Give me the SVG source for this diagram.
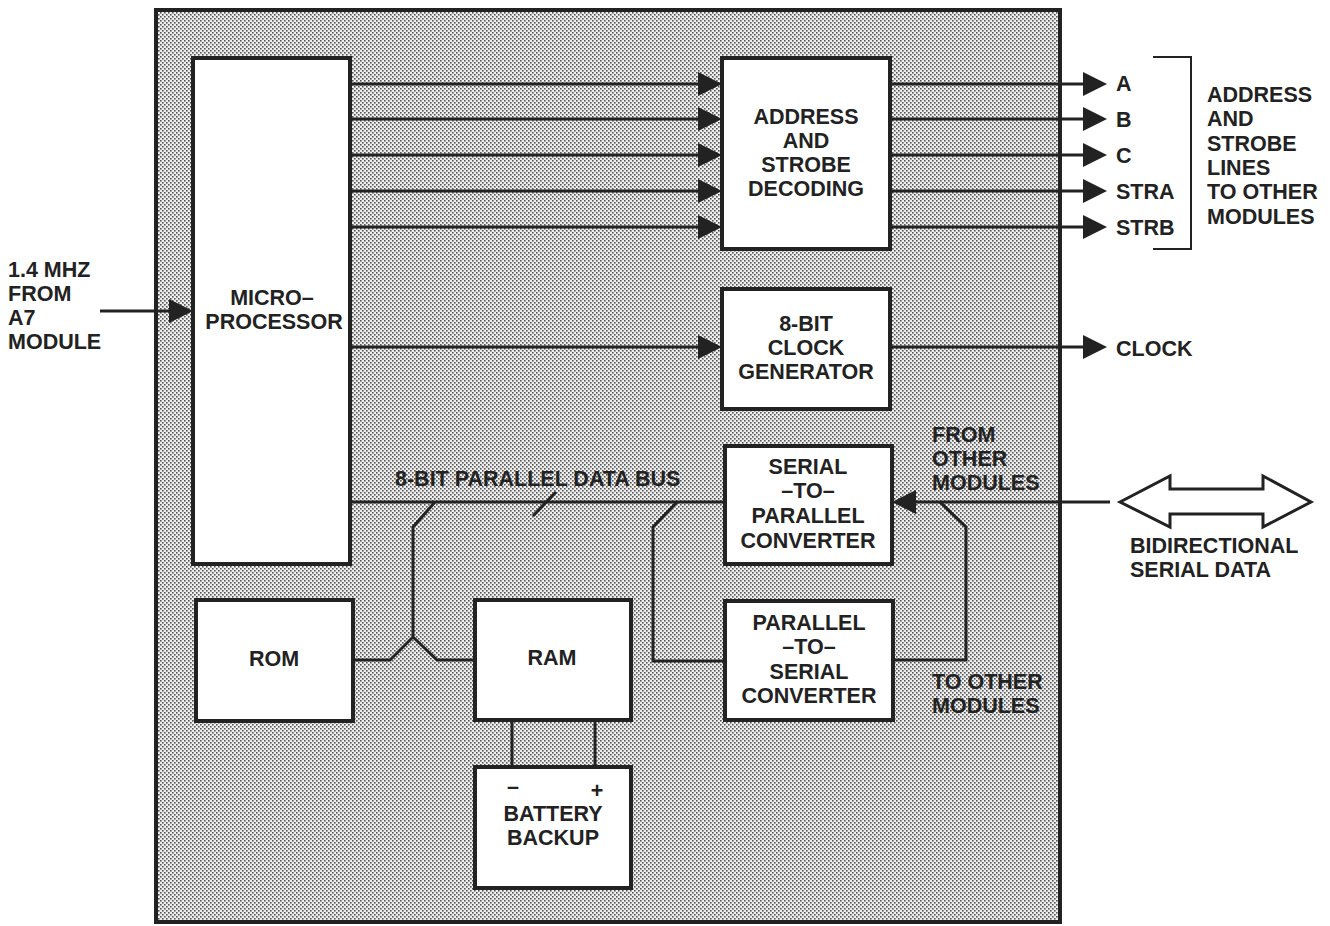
<svg xmlns="http://www.w3.org/2000/svg" width="1330" height="926" viewBox="0 0 1330 926">
<style>
text{font-family:"Liberation Sans",Arial,sans-serif;font-weight:bold;font-size:21.5px;fill:#222}
.c{text-anchor:middle}
.box{fill:#fff;stroke:#222;stroke-width:4}
.ln{fill:none;stroke:#222;stroke-width:3}
.arr{fill:none;stroke:#222;stroke-width:3;marker-end:url(#ah)}
</style>
<defs>
<pattern id="dots" patternUnits="userSpaceOnUse" width="4" height="4">
<rect width="4" height="4" fill="#efefef"/>
<rect x="0" y="0" width="1.6" height="1.6" fill="#555"/>
<rect x="2" y="2" width="1.6" height="1.6" fill="#555"/>
</pattern>
<marker id="ah" markerUnits="userSpaceOnUse" markerWidth="24" markerHeight="24" refX="12" refY="12" orient="auto">
<path d="M0,0 L24,12 L0,24 z" fill="#222"/>
</marker>
</defs>
<rect width="1330" height="926" fill="#fff"/>
<g id="module">
<rect x="156" y="10" width="904" height="912" fill="url(#dots)" stroke="#222" stroke-width="4"/>
</g>
<g id="connectors">
<line class="arr" x1="100" y1="311" x2="181" y2="311"/>
<line class="arr" x1="350" y1="84" x2="710" y2="84"/>
<line class="arr" x1="350" y1="119" x2="710" y2="119"/>
<line class="arr" x1="350" y1="155" x2="710" y2="155"/>
<line class="arr" x1="350" y1="191" x2="710" y2="191"/>
<line class="arr" x1="350" y1="227" x2="710" y2="227"/>
<line class="arr" x1="350" y1="347" x2="710" y2="347"/>
<line class="arr" x1="890" y1="84" x2="1095" y2="84"/>
<line class="arr" x1="890" y1="119" x2="1095" y2="119"/>
<line class="arr" x1="890" y1="155" x2="1095" y2="155"/>
<line class="arr" x1="890" y1="191" x2="1095" y2="191"/>
<line class="arr" x1="890" y1="227" x2="1095" y2="227"/>
<line class="arr" x1="890" y1="347" x2="1095" y2="347"/>
<line class="ln" x1="350" y1="502" x2="725" y2="502"/>
<line class="arr" x1="1110" y1="502" x2="904" y2="502"/>
<line class="ln" x1="556" y1="492" x2="533" y2="516"/>
<path class="ln" d="M435,502 L413,527 V637 L390,660 H353 M413,637 L437,660 H475"/>
<path class="ln" d="M677,502 L653,527 V661 H725"/>
<path class="ln" d="M893,660 H966 V527 L940,502"/>
<line class="ln" x1="512" y1="720" x2="512" y2="767"/>
<line class="ln" x1="595" y1="720" x2="595" y2="767"/>
<path d="M1153,57 H1191 V249 H1153" fill="none" stroke="#222" stroke-width="2"/>
<path d="M1120,502 L1170,476 V489 H1263 V476 L1311,502 L1263,527 V514 H1170 V527 Z" fill="#fff" stroke="#222" stroke-width="3" stroke-linejoin="miter"/>
</g>
<g id="microprocessor">
<rect class="box" x="193" y="58" width="157" height="506"/>
<text class="c" x="272" y="305">MICRO–</text>
<text class="c" x="274" y="329">PROCESSOR</text>
</g>
<g id="address-decoding">
<rect class="box" x="722" y="58" width="168" height="191"/>
<text class="c" x="806" y="124">ADDRESS</text>
<text class="c" x="806" y="148">AND</text>
<text class="c" x="806" y="172">STROBE</text>
<text class="c" x="806" y="196">DECODING</text>
</g>
<g id="clock-generator">
<rect class="box" x="722" y="289" width="168" height="120"/>
<text class="c" x="806" y="331">8-BIT</text>
<text class="c" x="806" y="355">CLOCK</text>
<text class="c" x="806" y="379">GENERATOR</text>
</g>
<g id="serial-to-parallel">
<rect class="box" x="725" y="446" width="167" height="118"/>
<text class="c" x="808" y="474">SERIAL</text>
<text class="c" x="808" y="498">–TO–</text>
<text class="c" x="808" y="523">PARALLEL</text>
<text class="c" x="808" y="548">CONVERTER</text>
</g>
<g id="parallel-to-serial">
<rect class="box" x="725" y="601" width="168" height="119"/>
<text class="c" x="809" y="630">PARALLEL</text>
<text class="c" x="809" y="654">–TO–</text>
<text class="c" x="809" y="679">SERIAL</text>
<text class="c" x="809" y="703">CONVERTER</text>
</g>
<g id="rom">
<rect class="box" x="196" y="600" width="157" height="121"/>
<text class="c" x="274" y="666">ROM</text>
</g>
<g id="ram">
<rect class="box" x="475" y="600" width="156" height="120"/>
<text class="c" x="552" y="665">RAM</text>
</g>
<g id="battery-backup">
<rect class="box" x="475" y="767" width="156" height="121"/>
<text class="c" x="513" y="794">–</text>
<text class="c" x="597" y="798">+</text>
<text class="c" x="553" y="821">BATTERY</text>
<text class="c" x="553" y="845">BACKUP</text>
</g>
<g id="labels">
<text x="8" y="277">1.4 MHZ</text>
<text x="8" y="301">FROM</text>
<text x="8" y="325">A7</text>
<text x="8" y="349">MODULE</text>
<text x="1116" y="91">A</text>
<text x="1116" y="127">B</text>
<text x="1116" y="163">C</text>
<text x="1116" y="199">STRA</text>
<text x="1116" y="235">STRB</text>
<text x="1116" y="356">CLOCK</text>
<text x="1207" y="102">ADDRESS</text>
<text x="1207" y="126">AND</text>
<text x="1207" y="151">STROBE</text>
<text x="1207" y="175">LINES</text>
<text x="1207" y="199">TO OTHER</text>
<text x="1207" y="224">MODULES</text>
<text x="395" y="486">8-BIT PARALLEL DATA BUS</text>
<text x="932" y="442">FROM</text>
<text x="932" y="466">OTHER</text>
<text x="932" y="490">MODULES</text>
<text x="932" y="689">TO OTHER</text>
<text x="932" y="713">MODULES</text>
<text x="1130" y="553">BIDIRECTIONAL</text>
<text x="1130" y="577">SERIAL DATA</text>
</g>
</svg>
